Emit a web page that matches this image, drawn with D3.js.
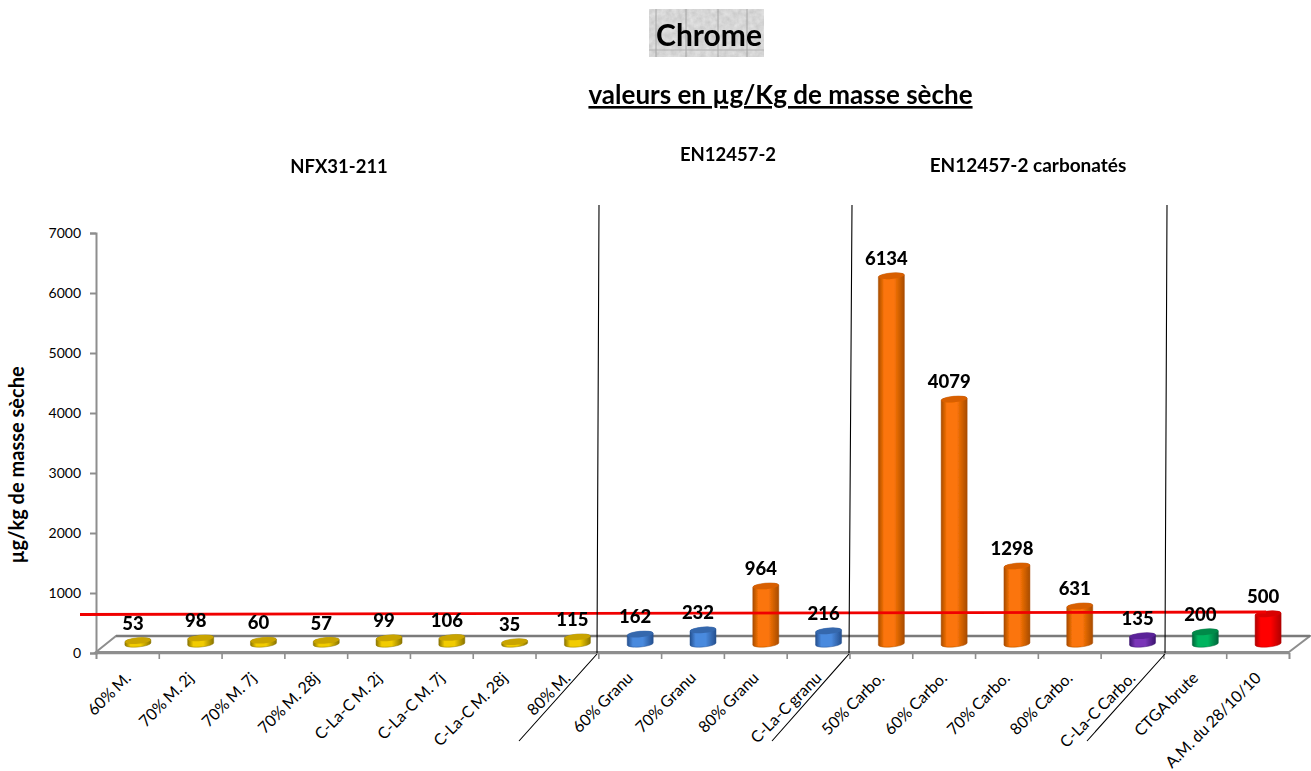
<!DOCTYPE html>
<html><head><meta charset="utf-8">
<script src="https://cdn.jsdelivr.net/npm/d3@7"></script>
<style>
html,body{margin:0;padding:0;background:#fff;overflow:hidden}
svg{display:block}
text{font-family:Lato,"Open Sans",sans-serif;fill:#000}
</style></head><body>
<svg id="c" width="1311" height="771"></svg>
<script>
const categories=["60% M.","70% M. 2j","70% M. 7j","70% M. 28j","C-La-C M. 2j","C-La-C M. 7j","C-La-C M. 28j","80% M.","60% Granu","70% Granu","80% Granu","C-La-C granu","50% Carbo.","60% Carbo.","70% Carbo.","80% Carbo.","C-La-C Carbo.","CTGA brute","A.M. du 28/10/10"];
const values=[53,98,60,57,99,106,35,115,162,232,964,216,6134,4079,1298,631,135,200,500];
const groups=["y","y","y","y","y","y","y","y","b","b","o","b","o","o","o","o","p","g","r"];
const yTicks=[0,1000,2000,3000,4000,5000,6000,7000];
const limitValues=[492,533];
const sections=["NFX31-211","EN12457-2","EN12457-2 carbonatés"];

const palette={y:["#8a7400","#f2cc00","#c9a400"],b:["#25508f","#4a8ade","#3568ad"],o:["#a84c00","#fb7508","#d85f00"],p:["#3c1570","#7a35b8","#5a2398"],g:["#00663a","#00b45e","#008a48"],r:["#b00000","#ff0000","#d80000"]};
const svg=d3.select("#c");
const defs=svg.append("defs");
Object.entries(palette).forEach(([k,[d,l]])=>{
  const g=defs.append("linearGradient").attr("id","g"+k);
  [[0,d],[.22,l],[.6,l],[1,d]].forEach(([o,c])=>g.append("stop").attr("offset",o).attr("stop-color",c));
});
defs.append("filter").attr("id","soft").append("feGaussianBlur").attr("stdDeviation",.6);
const tex=defs.append("filter").attr("id","tex").attr("x",0).attr("y",0).attr("width",1).attr("height",1);
tex.append("feTurbulence").attr("type","fractalNoise").attr("baseFrequency",.18).attr("numOctaves",3).attr("seed",4);
tex.append("feColorMatrix").attr("values","0 0 0 0 .5  0 0 0 0 .5  0 0 0 0 .5  .9 0 0 0 -.1");

const x=d3.scaleLinear().domain([0,19]).range([96,1289]);
const y=d3.scaleLinear().domain([0,7000]).range([653,233]);
const axisGrey="#8e8e8e";
const lift=9;
const cx=i=>x(i+.5)+10.5;
const rx=13,ry=3,tilt=1.2;

// floor
svg.append("path").attr("d","M96,652L116,636L1310,636L1289,652Z").attr("fill","#fff").attr("stroke",axisGrey).attr("stroke-width",2);
svg.append("line").attr("x1",116).attr("x2",1310).attr("y1",636).attr("y2",636).attr("stroke","#7a7a7a").attr("stroke-width",2.5);

// axes
const ay=svg.append("g").attr("transform","translate(96,0)").call(d3.axisLeft(y).tickValues(yTicks).tickFormat(d3.format("d")).tickSize(6).tickPadding(9));
ay.selectAll("path,line").attr("stroke",axisGrey).attr("stroke-width",2);
ay.selectAll("text").attr("font-size",14).style("font-family","Lato");
const ax=svg.append("g").attr("transform","translate(0,653)").call(d3.axisBottom(x).tickValues(d3.range(20)).tickSize(6).tickFormat(""));
ax.selectAll("path,line").attr("stroke",axisGrey).attr("stroke-width",1.6);

// bars
const bars=svg.append("g").attr("filter","url(#soft)").selectAll("g").data(values).join("g");
bars.append("path")
 .attr("d",(v,i)=>{const c=cx(i),t=y(v)-lift,b=y(0)-lift;
   return `M${c-rx},${t+tilt}L${c-rx},${b+tilt}A${rx},${ry} -5 0 0 ${c+rx},${b-tilt}L${c+rx},${t-tilt}A${rx},${ry} -5 0 0 ${c-rx},${t+tilt}Z`;})
 .attr("fill",(v,i)=>`url(#g${groups[i]})`)
 .attr("stroke",(v,i)=>palette[groups[i]][0]).attr("stroke-opacity",.6).attr("stroke-width",.8);
bars.append("ellipse")
 .attr("cx",(v,i)=>cx(i)).attr("cy",v=>y(v)-lift)
 .attr("rx",rx).attr("ry",ry)
 .attr("transform",(v,i)=>`rotate(-5 ${cx(i)} ${y(v)-lift})`)
 .attr("fill",(v,i)=>palette[groups[i]][2]);

// category labels
svg.append("g").selectAll("text").data(categories).join("text")
 .attr("transform",(d,i)=>`translate(${cx(i)-10},${675}) rotate(-45)`)
 .attr("text-anchor","end").attr("font-size",16).attr("dy",".35em").attr("word-spacing",-1).text(d=>d);

// limit line
const limitLine=d3.line().x(d=>d[0]).y(d=>d[1]);
svg.append("path").attr("d",limitLine([[80,y(limitValues[0])-lift],[1266,y(limitValues[1])-lift]]))
 .attr("stroke","#f00000").attr("stroke-width",2.8).attr("fill","none");

// separators
[[599,597,519],[852,849,772],[1167,1165,1087]].forEach(([a,b,c])=>{
  svg.append("path").attr("d",`M${a},205L${b},653M${b},654L${c},741`).attr("stroke","#000").attr("stroke-width",1.1).attr("fill","none");
});

// value labels
svg.append("g").selectAll("text").data(values).join("text")
 .attr("x",(v,i)=>cx(i)-5).attr("y",v=>y(v)-lift-11)
 .attr("text-anchor","middle").attr("font-weight",900).attr("font-size",18.5).text(v=>v);

// titles
svg.append("rect").attr("x",649).attr("y",9).attr("width",115).attr("height",48).attr("fill","#e4e4e4");
svg.append("rect").attr("x",649).attr("y",9).attr("width",115).attr("height",48).attr("filter","url(#tex)");
[656,686,718,747].forEach(v=>svg.append("line").attr("x1",v).attr("x2",v).attr("y1",9).attr("y2",57).attr("stroke","#9a9a9a").attr("stroke-width",.8));
svg.append("line").attr("x1",649).attr("x2",764).attr("y1",50).attr("y2",50).attr("stroke","#aaa").attr("stroke-width",.8);
svg.append("text").attr("x",709).attr("y",46).attr("text-anchor","middle").attr("font-weight",700).attr("font-size",30).text("Chrome");
svg.append("text").attr("x",780.5).attr("y",104).attr("text-anchor","middle").attr("font-weight",700).attr("font-size",26).attr("text-decoration","underline").text("valeurs en µg/Kg de masse sèche");
[[339,173],[728,161],[1028,172]].forEach(([px,py],i)=>svg.append("text").attr("x",px).attr("y",py).attr("text-anchor","middle").attr("font-weight",700).attr("font-size",i==2?19:18.5).text(sections[i]));
svg.append("text").attr("transform","translate(24,465) rotate(-90)").attr("text-anchor","middle").attr("font-weight",700).attr("font-size",20).text("µg/kg de masse sèche");
</script></body></html>
